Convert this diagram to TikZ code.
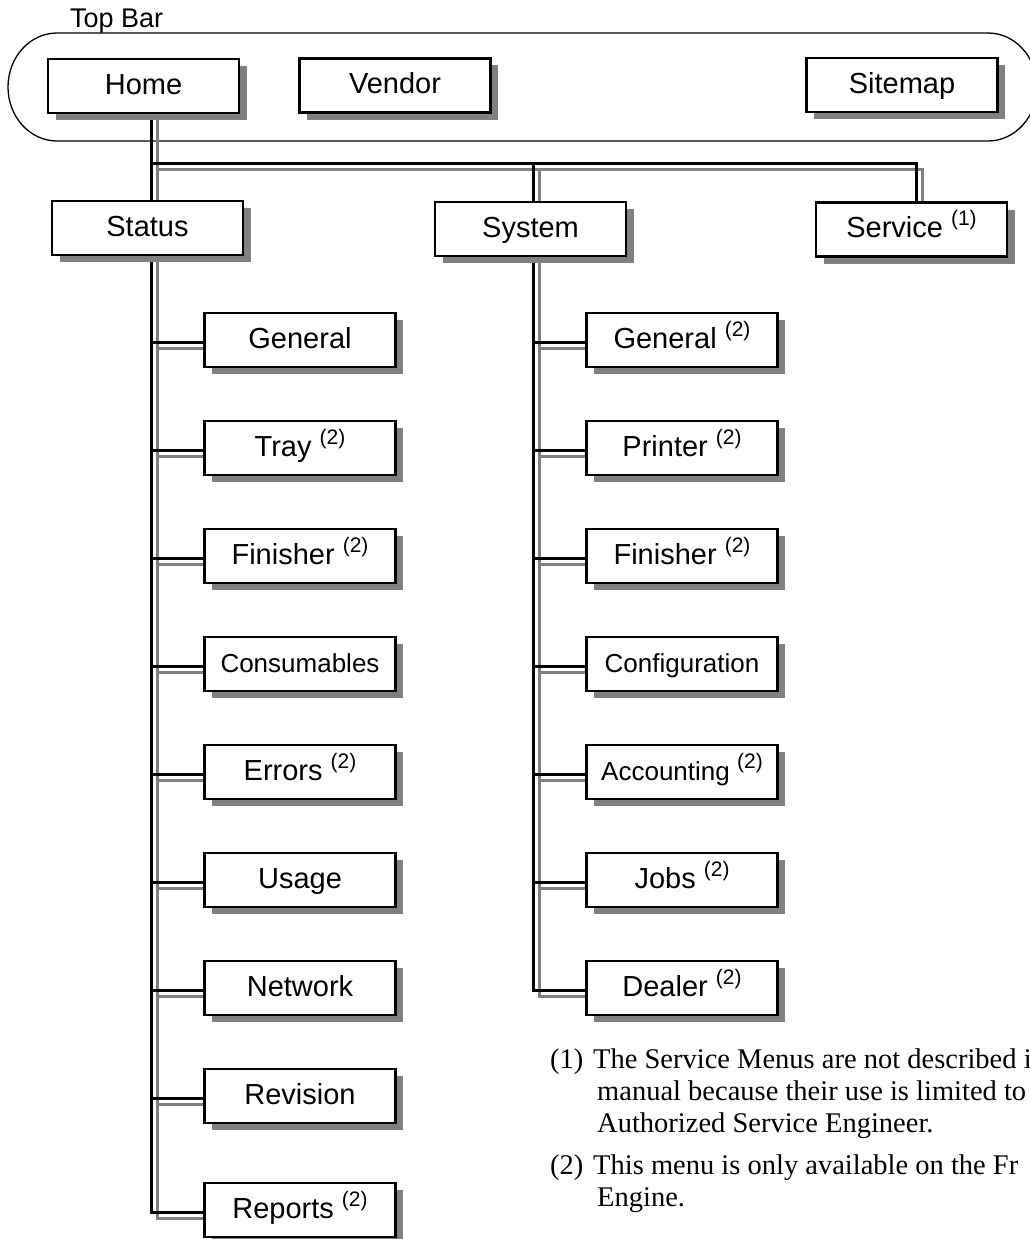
\documentclass[tikz,border=0pt]{standalone}
\usepackage{fontspec}
\setmainfont{Liberation Serif}
\newfontfamily\labelfont{Liberation Sans}
\usetikzlibrary{shadows}
\definecolor{shade}{HTML}{808080}

% raised footnote marker inside a menu box
\newcommand\mnote[1]{\raisebox{12pt}{\fontsize{21}{21}\selectfont(#1)}}

\pgfdeclarelayer{bg}
\pgfsetlayers{bg,main}

\tikzset{
  menu/.style={draw=black, line width=2.6pt, fill=white,
    minimum width=191pt, minimum height=54pt, inner sep=0pt,
    text height=16pt, text depth=0pt,
    font=\labelfont\fontsize{29}{34}\selectfont,
    drop shadow={shadow xshift=7.5pt, shadow yshift=-7pt, fill=shade, opacity=1}},
  small/.style={font=\labelfont\fontsize{26}{30}\selectfont},
  wire/.style={line width=3pt, draw=black},
  wireg/.style={line width=3pt, draw=shade},
  frame/.style={line width=1.3pt, draw=black},
  note/.style={anchor=base west, inner sep=0pt,
    font=\fontsize{28.5}{32}\selectfont},
}

\begin{document}
\begin{tikzpicture}[x=1pt,y=-1pt]
\useasboundingbox (0,0) rectangle (1029,1239);

% top bar entries
\node[anchor=base west, inner sep=0pt, font=\labelfont\fontsize{27}{30}\selectfont] (toplabel) at (70,28) {Top Bar};
\node[menu] (home) at (143.5,86) {Home};
\node[menu] (vendor) at (395,85.5) {Vendor};
\node[menu] (sitemap) at (902,85) {Sitemap};

% second level
\node[menu] (status) at (147.5,228) {Status};
\node[menu] (system) at (530.5,229) {System};
\node[menu] (service) at (911.5,229.5) {Service \mnote{1}};

% Status submenus
\node[menu] (st1) at (300,340) {General};
\node[menu] (st2) at (300,448) {Tray \mnote{2}};
\node[menu] (st3) at (300,556) {Finisher \mnote{2}};
\node[menu, small] (st4) at (300,664) {Consumables};
\node[menu] (st5) at (300,772) {Errors \mnote{2}};
\node[menu] (st6) at (300,880) {Usage};
\node[menu] (st7) at (300,988) {Network};
\node[menu] (st8) at (300,1096) {Revision};
\node[menu] (st9) at (300,1210) {Reports \mnote{2}};

% System submenus
\node[menu] (sy1) at (682,340) {General \mnote{2}};
\node[menu] (sy2) at (682,448) {Printer \mnote{2}};
\node[menu] (sy3) at (682,556) {Finisher \mnote{2}};
\node[menu, small] (sy4) at (682,664) {Configuration};
\node[menu, small] (sy5) at (682,772) {Accounting \mnote{2}};
\node[menu] (sy6) at (682,880) {Jobs \mnote{2}};
\node[menu] (sy7) at (682,988) {Dealer \mnote{2}};

% footnotes, one node per printed line
\node[note] (n1num) at (550,1068) {(1)};
\node[note] (n1a) at (593,1068) {The Service Menus are not described i};
\node[note] (n1b) at (597,1100) {manual because their use is limited to};
\node[note] (n1c) at (597,1132) {Authorized Service Engineer.};
\node[note] (n2num) at (550,1174) {(2)};
\node[note] (n2a) at (593,1174) {This menu is only available on the Fr};
\node[note] (n2b) at (597,1206) {Engine.};

\begin{pgfonlayer}{bg}
  % rounded outline of the top bar
  \draw[frame] (57,33) -- (988,33)
    arc[start angle=90, end angle=-90, x radius=49pt, y radius=54pt]
    -- (57,141)
    arc[start angle=270, end angle=90, x radius=49pt, y radius=54pt] -- cycle;

  % bus positions (black line and its grey shadow)
  \coordinate (lbus) at (151,163);  \coordinate (lbusg) at (157,169);
  \coordinate (mbus) at (533,163);  \coordinate (mbusg) at (539,169);
  \coordinate (rbus) at (916,163);  \coordinate (rbusg) at (922,169);

  % grey shadow lines
  \draw[wireg] (lbusg |- home.south) -- (lbusg |- status.north);
  \draw[wireg] (lbusg) -- (rbusg) -- (rbusg |- service.north);
  \draw[wireg] (mbusg) -- (mbusg |- system.north);
  \path ([yshift=-8pt]st9.west) coordinate (st9g);
  \draw[wireg] (lbusg |- status.south) -- (lbusg |- st9g) -- (st9g);
  \path ([yshift=-8pt]sy7.west) coordinate (sy7g);
  \draw[wireg] (mbusg |- system.south) -- (mbusg |- sy7g) -- (sy7g);
  \foreach \i in {1,...,8} {
    \path ([yshift=-8pt]st\i.west) coordinate (g);
    \draw[wireg] (lbusg |- g) -- (g);
  }
  \foreach \i in {1,...,6} {
    \path ([yshift=-8pt]sy\i.west) coordinate (g);
    \draw[wireg] (mbusg |- g) -- (g);
  }

  % black lines
  \draw[wire] (lbus |- home.south) -- (lbus |- status.north);
  \draw[wire] (lbus) -- (rbus) -- (rbus |- service.north);
  \draw[wire] (mbus) -- (mbus |- system.north);
  \path ([yshift=-2pt]st9.west) coordinate (st9b);
  \draw[wire] (lbus |- status.south) -- (lbus |- st9b) -- (st9b);
  \path ([yshift=-2pt]sy7.west) coordinate (sy7b);
  \draw[wire] (mbus |- system.south) -- (mbus |- sy7b) -- (sy7b);
  \foreach \i in {1,...,8} {
    \path ([yshift=-2pt]st\i.west) coordinate (b);
    \draw[wire] (lbus |- b) -- (b);
  }
  \foreach \i in {1,...,6} {
    \path ([yshift=-2pt]sy\i.west) coordinate (b);
    \draw[wire] (mbus |- b) -- (b);
  }
\end{pgfonlayer}
\end{tikzpicture}
\end{document}
